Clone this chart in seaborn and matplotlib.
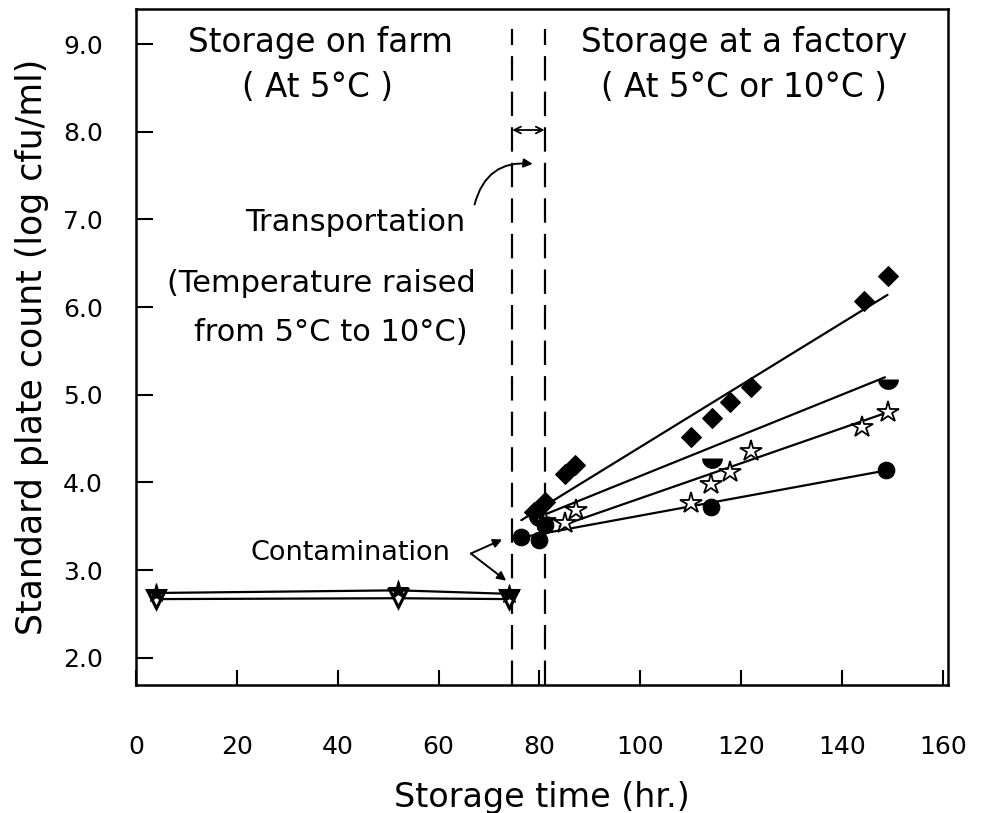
import matplotlib
matplotlib.use("Agg")
import matplotlib.pyplot as plt
import seaborn as sns
import numpy as np

sns.set_style("ticks")
plt.rcParams["font.family"] = ["DejaVu Sans"]
plt.rcParams["text.color"] = "black"
plt.rcParams["axes.labelcolor"] = "black"
plt.rcParams["xtick.color"] = "black"
plt.rcParams["ytick.color"] = "black"

# --- on-farm storage (5 C) ---
farm_hours = [4, 52, 74]
farm_star = [2.74, 2.77, 2.73]
farm_triangle = [2.67, 2.68, 2.67]

# --- factory storage: measured points ---
diamond_hours = [79, 81, 85, 87, 110, 114.3, 117.8, 122, 144.4, 149]
diamond_counts = [3.66, 3.78, 4.10, 4.20, 4.52, 4.74, 4.92, 5.09, 6.07, 6.35]

half_hours = [80, 114.3, 149]
half_counts = [3.62, 4.28, 5.18]

star_hours = [81, 85, 87.3, 110, 114.1, 117.8, 122, 144, 149]
star_counts = [3.56, 3.54, 3.69, 3.77, 3.98, 4.12, 4.36, 4.63, 4.80]

circle_hours = [76.4, 80, 81, 114.1, 148.7]
circle_counts = [3.38, 3.34, 3.52, 3.72, 4.14]

# --- factory storage: fitted growth lines (end points) ---
diamond_fit_x = [76.4, 149]
diamond_fit_y = [3.57, 6.14]
half_fit_x = [80, 148.5]
half_fit_y = [3.61, 5.20]
star_fit_x = [84, 149]
star_fit_y = [3.50, 4.80]
circle_fit_x = [78, 149]
circle_fit_y = [3.39, 4.14]

# transport window
transport_start = 74.6
transport_end = 81.0

x_ticks = [0, 20, 40, 60, 80, 100, 120, 140, 160]
y_ticks = [2.0, 3.0, 4.0, 5.0, 6.0, 7.0, 8.0, 9.0]

fig = plt.figure(figsize=(9.81, 8.13), dpi=100)
ax = fig.add_axes([0.1386, 0.1574, 0.8278, 0.8315])

lw = 1.6
# farm series
sns.lineplot(x=farm_hours, y=farm_triangle, ax=ax, color="black", lw=lw,
             marker="v", markersize=13, markerfacecolor="white",
             markeredgecolor="black", markeredgewidth=2.2, zorder=3)
sns.lineplot(x=farm_hours, y=farm_star, ax=ax, color="black", lw=lw,
             marker="*", markersize=15, markerfacecolor="black",
             markeredgecolor="black", zorder=4)

# fitted lines
for fx, fy in [(diamond_fit_x, diamond_fit_y), (half_fit_x, half_fit_y),
               (star_fit_x, star_fit_y), (circle_fit_x, circle_fit_y)]:
    sns.lineplot(x=fx, y=fy, ax=ax, color="black", lw=lw, zorder=2)

# factory points
sns.lineplot(x=diamond_hours, y=diamond_counts, ax=ax, linestyle="none",
             marker="D", markersize=10, color="black", markeredgecolor="black",
             zorder=4)
sns.lineplot(x=half_hours, y=half_counts, ax=ax, linestyle="none",
             marker="o", markersize=15, fillstyle="bottom",
             markerfacecolor="black", markerfacecoloralt="none",
             markeredgewidth=0, zorder=4)
sns.lineplot(x=star_hours, y=star_counts, ax=ax, linestyle="none",
             marker="*", markersize=16, markerfacecolor="white",
             markeredgecolor="black", markeredgewidth=1.3, zorder=4)
sns.lineplot(x=circle_hours, y=circle_counts, ax=ax, linestyle="none",
             marker="o", markersize=12, color="black", markeredgecolor="black",
             zorder=4)

# transport window boundaries
for xv in (transport_start, transport_end):
    ax.plot([xv, xv], [1.69, 9.17], color="black", lw=1.6,
            linestyle=(0, (11, 5)), zorder=1)
ax.annotate("", xy=(transport_start, 8.02), xytext=(transport_end, 8.02),
            arrowprops=dict(arrowstyle="<->", color="black", lw=1.3,
                            mutation_scale=12, shrinkA=0, shrinkB=0))

ax.set_xlim(0, 161)
ax.set_ylim(1.69, 9.40)
ax.set_xticks(x_ticks)
ax.set_yticks(y_ticks)
ax.set_yticklabels([f"{v:.1f}" for v in y_ticks])
ax.tick_params(axis="both", direction="in", width=1.5, labelsize=18,
               colors="black")
ax.tick_params(axis="y", length=12, pad=24)
ax.tick_params(axis="x", length=11, pad=36)
for s in ax.spines.values():
    s.set_visible(True)
    s.set_linewidth(1.8)
    s.set_color("black")

ax.set_xlabel("Storage time (hr.)", fontsize=24, labelpad=16)
ax.set_ylabel("Standard plate count (log cfu/ml)", fontsize=25, labelpad=10)

# region captions
tfs = 23.5
ax.text(36.5, 9.02, "Storage on farm", fontsize=tfs, ha="center", va="center")
ax.text(36.0, 8.50, "( At 5°C )", fontsize=tfs, ha="center", va="center")
ax.text(120.5, 9.02, "Storage at a factory", fontsize=tfs, ha="center", va="center")
ax.text(120.5, 8.50, "( At 5°C or 10°C )", fontsize=tfs, ha="center", va="center")

ax.text(43.5, 6.97, "Transportation", fontsize=22, ha="center", va="center")
ax.text(36.8, 6.27, "(Temperature raised", fontsize=22, ha="center", va="center")
ax.text(38.6, 5.71, "from 5°C to 10°C)", fontsize=22, ha="center", va="center")
ax.annotate("", xy=(79.2, 7.63), xytext=(67.0, 7.14),
            arrowprops=dict(arrowstyle="-|>", color="black", lw=1.4,
                            mutation_scale=13,
                            connectionstyle="arc3,rad=-0.45"))

ax.text(42.5, 3.20, "Contamination", fontsize=19.5, ha="center", va="center")
ax.annotate("", xy=(72.6, 3.35), xytext=(66.4, 3.19),
            arrowprops=dict(arrowstyle="-|>", color="black", lw=1.4,
                            mutation_scale=13, shrinkA=0, shrinkB=0))
ax.annotate("", xy=(73.4, 2.88), xytext=(66.4, 3.19),
            arrowprops=dict(arrowstyle="-|>", color="black", lw=1.4,
                            mutation_scale=13, shrinkA=0, shrinkB=0))

fig.savefig("out.png", dpi=100)
